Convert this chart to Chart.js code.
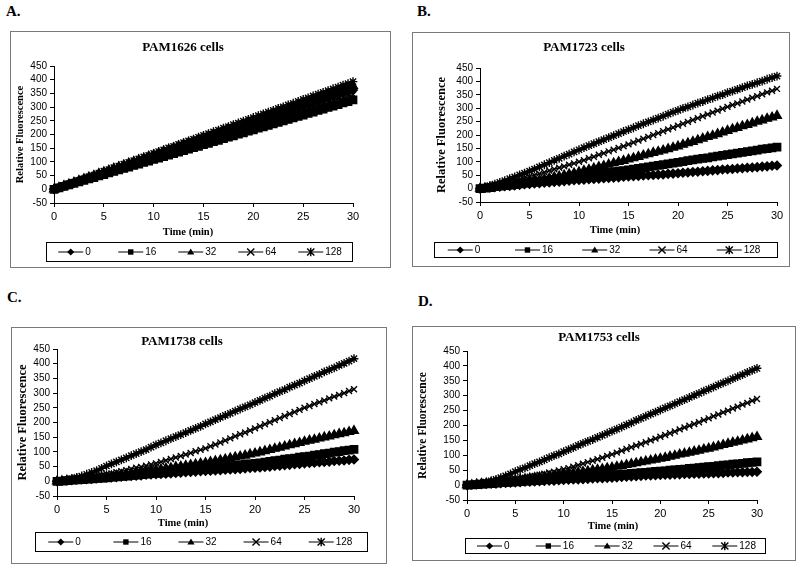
<!DOCTYPE html>
<html>
<head>
<meta charset="utf-8">
<script src="https://cdn.jsdelivr.net/npm/chart.js@4.4.0/dist/chart.umd.min.js"></script>
<style>
html, body { margin: 0; padding: 0; background: #fff; }
body { width: 800px; height: 572px; position: relative; overflow: hidden; }
.frame { position: absolute; border: 1px solid #7a7a7a; }
.frame canvas { display: block; }
.letter { position: absolute; font: bold 15px "Liberation Serif", serif; color: #000; }
</style>
</head>
<body>
<div class="letter" style="left:6px;top:3px">A.</div>
<div class="letter" style="left:417px;top:3px">B.</div>
<div class="letter" style="left:7px;top:289px">C.</div>
<div class="letter" style="left:418px;top:293px">D.</div>
<script>
// time points (min), one reading every 30 s
const times = [
  0,0.5,1,1.5,2,2.5,3,3.5,4,4.5,
  5,5.5,6,6.5,7,7.5,8,8.5,9,9.5,
  10,10.5,11,11.5,12,12.5,13,13.5,14,14.5,
  15,15.5,16,16.5,17,17.5,18,18.5,19,19.5,
  20,20.5,21,21.5,22,22.5,23,23.5,24,24.5,
  25,25.5,26,26.5,27,27.5,28,28.5,29,29.5,
  30];
const seriesLabels = ['0', '16', '32', '64', '128'];
const xTicks = [0, 5, 10, 15, 20, 25, 30];
const yTicks = [-50, 0, 50, 100, 150, 200, 250, 300, 350, 400, 450];

// A. PAM1626
const a0 = [0,6,12,18,24,30,36,42,48,54, 60,66,72,78,85,91,97,103,109,115, 121,127,133,139,145,151,157,163,169,175,
  181,187,193,199,205,211,217,223,229,235, 241,247,253,259,265,271,277,283,289,296, 302,308,314,320,326,332,338,344,350,356, 362];
const a16 = [0,5,11,16,22,27,33,38,43,49, 54,60,65,71,76,81,87,92,98,103, 109,114,119,125,130,136,141,147,152,157,
  163,168,174,179,185,190,195,201,206,212, 217,223,228,233,239,244,250,255,261,266, 271,277,282,288,293,299,304,309,315,320, 326];
const a32 = [0,6,13,19,25,32,38,44,50,57, 63,69,76,82,88,95,101,107,113,120, 126,132,139,145,151,158,164,170,176,183,
  189,195,202,208,214,221,227,233,239,246, 252,258,265,271,277,284,290,296,302,309, 315,321,328,334,340,347,353,359,365,372, 378];
const a64 = [0,6,12,17,23,29,35,40,46,52, 58,63,69,75,81,87,92,98,104,110, 115,121,127,133,138,144,150,156,161,167,
  173,179,185,190,196,202,208,213,219,225, 231,236,242,248,254,260,265,271,277,283, 288,294,300,306,311,317,323,329,334,340, 346];
const a128 = [0,7,13,20,26,33,39,46,52,59, 66,72,79,85,92,98,105,111,118,124, 131,138,144,151,157,164,170,177,183,190,
  197,203,210,216,223,229,236,242,249,255, 262,269,275,282,288,295,301,308,314,321, 328,334,341,347,354,360,367,373,380,386, 393];

// B. PAM1723
const b0 = [0,2,3,5,7,9,10,12,14,16, 17,19,20,22,23,25,26,28,29,31, 32,33,35,36,37,39,40,41,42,44,
  45,46,47,49,50,51,52,53,55,56, 57,59,60,62,63,65,66,68,69,71, 72,73,75,76,78,79,80,82,83,85, 86];
const b16 = [0,2,4,7,9,11,13,15,18,20, 22,24,27,29,31,34,36,38,40,43, 45,47,50,52,55,57,60,62,65,67,
  70,73,75,78,81,84,87,89,92,95, 98,101,104,107,110,113,115,118,121,124, 127,130,132,135,138,141,144,147,149,152, 155];
const b32 = [0,2,4,6,9,11,13,16,18,21, 24,27,31,35,39,43,46,50,54,58, 62,67,71,76,81,85,90,95,100,104,
  109,114,119,124,129,134,138,143,148,153, 158,164,170,175,181,187,193,198,204,210, 216,222,227,233,238,244,250,255,261,266, 272];
const b64 = [0,3,7,11,15,20,24,29,34,40, 45,50,56,61,67,72,78,83,89,94, 100,106,113,119,126,132,139,145,152,158,
  165,172,179,186,193,200,207,214,221,228, 235,242,249,256,263,270,277,284,291,298, 305,312,318,325,332,339,345,352,359,365, 372];
const b128 = [0,5,11,17,23,30,37,44,51,58, 65,73,81,89,97,105,113,121,129,137, 145,153,160,168,175,183,190,198,205,213,
  220,227,235,242,249,256,263,270,278,285, 292,299,305,312,319,325,332,338,345,351, 358,364,370,377,383,389,395,401,408,414, 420];

// C. PAM1738
const c0 = [0,1,2,4,5,6,7,8,10,11, 12,13,14,16,17,18,19,20,22,23, 24,25,26,27,28,29,31,32,33,34,
  35,36,37,38,39,40,41,42,44,45, 46,47,49,50,52,53,55,56,58,59, 61,62,63,65,66,67,69,70,71,73, 74];
const c16 = [0,1,2,4,5,6,7,8,10,11, 12,14,15,17,18,20,21,23,24,26, 27,29,31,32,34,36,37,39,41,42,
  44,46,47,49,51,53,54,56,58,59, 61,63,65,68,70,72,75,77,79,82, 84,86,89,91,94,96,99,101,104,106, 109];
const c32 = [0,1,3,4,6,7,9,10,12,14, 16,18,20,23,25,27,30,32,34,37, 39,41,44,46,49,51,53,56,58,61,
  63,66,69,72,75,79,82,85,88,92, 95,99,103,107,111,115,119,123,127,131, 135,139,142,146,150,153,157,161,164,168, 172];
const c64 = [0,1,3,5,7,9,11,14,17,20, 24,27,31,34,38,42,46,49,53,57, 61,66,71,76,81,86,91,96,102,107,
  112,119,125,132,139,146,153,160,166,173, 180,187,194,201,208,215,222,229,236,243, 250,256,263,269,275,282,288,294,300,307, 313];
const c128 = [0,2,5,9,13,18,24,30,36,44, 52,59,66,73,80,87,94,101,108,116, 124,131,138,145,152,159,166,173,180,187,
  195,202,210,217,224,231,239,246,253,260, 268,275,283,290,298,305,312,320,327,334, 342,349,357,364,372,379,386,394,401,409, 417];

// D. PAM1753
const d0 = [0,1,2,3,4,5,5,6,7,8, 9,10,11,11,12,13,14,15,15,16, 17,18,19,19,20,21,22,23,23,24,
  25,26,27,28,29,30,31,32,32,33, 34,35,35,36,36,37,37,38,38,39, 39,40,40,41,42,42,43,43,44,44, 45];
const d16 = [0,1,2,3,4,5,7,8,9,10, 11,12,13,14,15,16,18,19,20,21, 22,23,24,26,27,28,29,30,32,33,
  34,35,36,38,39,40,42,43,44,46, 47,48,50,51,53,54,56,57,59,60, 62,63,65,67,68,70,71,73,75,76, 78];
const d32 = [0,1,3,5,6,8,10,12,13,15, 17,19,21,23,25,27,28,30,32,34, 36,38,40,43,45,47,50,52,54,57,
  59,62,65,68,71,74,77,80,83,86, 89,92,96,99,103,106,109,113,116,120, 123,127,131,135,139,143,146,150,154,158, 162];
const d64 = [0,1,2,4,6,8,10,12,14,16, 19,22,25,28,31,35,38,42,45,49, 53,57,62,67,72,77,82,87,92,98,
  103,109,115,121,127,133,138,144,150,156, 162,168,174,180,187,193,199,205,211,218, 224,231,237,244,250,257,263,270,276,283, 289];
const d128 = [0,2,4,7,10,14,19,25,31,38, 45,52,58,65,72,78,85,92,99,105, 112,119,126,133,140,147,153,160,167,174,
  181,188,195,202,209,217,224,231,238,245, 252,259,266,273,280,287,294,301,308,315, 322,329,336,343,350,357,364,371,378,385, 392];

const chartTitles = ['PAM1626 cells', 'PAM1723 cells', 'PAM1738 cells', 'PAM1753 cells'];
const yTitle = 'Relative Fluorescence';
const xTitle = 'Time (min)';

const markerStyles = ['rectRot', 'rect', 'triangle', 'crossRot', 'star'];
const markerRadius = [4.3, 5.2, 5, 4.2, 4.4];

// page layout of each panel (frame, plot area, text spots)
const panels = [
  { series: [a0, a16, a32, a64, a128], f: {L: 11, T: 32, R: 390, B: 267}, plot: {l: 54, r: 353, t: 66, b: 203},
    yT: {x: 20, size: 10.5}, tt: {x: 183, y: 48}, xt: {x: 188, y: 232, size: 10.5}, leg: {l: 46, r: 352, t: 242, b: 261} },
  { series: [b0, b16, b32, b64, b128], f: {L: 413, T: 33, R: 789, B: 266}, plot: {l: 480, r: 777, t: 68, b: 202},
    yT: {x: 442, size: 12.5}, tt: {x: 584, y: 48}, xt: {x: 615, y: 230, size: 10.5}, leg: {l: 434, r: 777, t: 242, b: 257} },
  { series: [c0, c16, c32, c64, c128], f: {L: 12, T: 328, R: 386, B: 563}, plot: {l: 57, r: 354, t: 349, b: 496},
    yT: {x: 23, size: 12.5}, tt: {x: 182, y: 342}, xt: {x: 183, y: 523, size: 10.5}, leg: {l: 35, r: 367, t: 532, b: 551} },
  { series: [d0, d16, d32, d64, d128], f: {L: 413, T: 327, R: 795, B: 560}, plot: {l: 467, r: 757, t: 351, b: 500},
    yT: {x: 423, size: 11.5}, tt: {x: 599, y: 338}, xt: {x: 613, y: 526, size: 10.5}, leg: {l: 465, r: 765, t: 538, b: 553} }
];

function drawMark(ctx, style, x, y, r) {
  ctx.beginPath();
  if (style === 'rectRot') {
    ctx.moveTo(x, y - r); ctx.lineTo(x + r, y); ctx.lineTo(x, y + r); ctx.lineTo(x - r, y);
    ctx.closePath(); ctx.fill();
  } else if (style === 'rect') {
    ctx.fillRect(x - r * 0.75, y - r * 0.75, r * 1.5, r * 1.5);
  } else if (style === 'triangle') {
    ctx.moveTo(x, y - r); ctx.lineTo(x + r, y + r * 0.7); ctx.lineTo(x - r, y + r * 0.7);
    ctx.closePath(); ctx.fill();
  } else {
    ctx.moveTo(x - r, y - r); ctx.lineTo(x + r, y + r);
    ctx.moveTo(x + r, y - r); ctx.lineTo(x - r, y + r);
    if (style === 'star') { ctx.moveTo(x, y - r * 1.2); ctx.lineTo(x, y + r * 1.2); }
    ctx.lineWidth = 1.4;
    ctx.stroke();
    ctx.lineWidth = 1;
  }
}

const panelDecor = {
  id: 'panelDecor',
  afterDraw(chart, args, o) {
    const ctx = chart.ctx;
    ctx.save();
    ctx.fillStyle = '#000';
    ctx.strokeStyle = '#000';
    ctx.lineWidth = 1;
    ctx.textAlign = 'center';
    ctx.textBaseline = 'middle';
    ctx.font = 'bold 13px "Liberation Serif"';
    ctx.fillText(o.title, o.titleX, o.titleY);
    ctx.font = 'bold ' + o.xTitleSize + 'px "Liberation Serif"';
    ctx.fillText(o.xTitle, o.xTitleX, o.xTitleY);

    // legend box
    const lg = o.legend;
    ctx.strokeRect(lg.x + 0.5, lg.y + 0.5, lg.w, lg.h);
    const step = lg.w / 5.1, off = lg.w * 0.04, cy = lg.y + lg.h / 2 + 0.5;
    ctx.font = '10px "Liberation Sans"';
    ctx.textAlign = 'left';
    chart.data.datasets.forEach((ds, i) => {
      const x0 = lg.x + off + i * step;
      ctx.beginPath(); ctx.moveTo(x0, cy); ctx.lineTo(x0 + 25, cy); ctx.stroke();
      drawMark(ctx, ds.pointStyle, x0 + 12.5, cy, 3.6);
      ctx.fillText(ds.label, x0 + 27, cy);
    });
    ctx.restore();
  }
};

panels.forEach((p, k) => {
  const W = p.f.R - p.f.L, H = p.f.B - p.f.T;
  const frame = document.createElement('div');
  frame.className = 'frame';
  frame.style.left = (p.f.L - 1) + 'px';
  frame.style.top = (p.f.T - 1) + 'px';
  frame.style.width = W + 'px';
  frame.style.height = H + 'px';
  const cv = document.createElement('canvas');
  cv.width = W; cv.height = H;
  frame.appendChild(cv);
  document.body.appendChild(frame);

  const lh = p.yT.size * 1.2;
  const pl = p.yT.x - p.f.L - lh / 2;
  const yWidth = p.plot.l - p.f.L - pl;
  const xHeight = 20;

  const axisGrid = { display: true, drawOnChartArea: false, drawTicks: true, tickLength: 4, color: '#000' };

  new Chart(cv.getContext('2d'), {
    type: 'line',
    data: {
      datasets: p.series.map((vals, i) => ({
        label: seriesLabels[i],
        data: times.map((t, j) => ({x: t, y: vals[j]})),
        borderColor: '#000',
        backgroundColor: '#000',
        borderWidth: 1.3,
        pointStyle: markerStyles[i],
        pointRadius: markerRadius[i],
        pointBorderWidth: 1.4,
        pointBorderColor: '#000',
        pointBackgroundColor: '#000',
        tension: 0,
        fill: false,
        clip: false
      }))
    },
    options: {
      responsive: false,
      animation: false,
      events: [],
      layout: {
        padding: { left: pl, top: p.plot.t - p.f.T, right: p.f.R - p.plot.r, bottom: (p.f.B - p.plot.b) - xHeight }
      },
      plugins: {
        legend: { display: false },
        title: { display: false },
        tooltip: { enabled: false },
        panelDecor: {
          title: chartTitles[k], titleX: p.tt.x - p.f.L, titleY: p.tt.y - p.f.T,
          xTitle: xTitle, xTitleX: p.xt.x - p.f.L, xTitleY: p.xt.y - p.f.T, xTitleSize: p.xt.size,
          legend: { x: p.leg.l - p.f.L, y: p.leg.t - p.f.T, w: p.leg.r - p.leg.l, h: p.leg.b - p.leg.t }
        }
      },
      scales: {
        x: {
          type: 'linear', min: 0, max: 30,
          afterBuildTicks: s => { s.ticks = xTicks.map(v => ({value: v})); },
          afterFit: s => { s.height = xHeight; },
          ticks: { color: '#000', font: { family: 'Liberation Sans', size: 11 }, padding: 3, maxRotation: 0, autoSkip: false },
          grid: axisGrid,
          border: { display: true, color: '#000', width: 1 }
        },
        y: {
          type: 'linear', min: -50, max: 450,
          afterBuildTicks: s => { s.ticks = yTicks.map(v => ({value: v})); },
          afterFit: s => { s.width = yWidth; },
          ticks: { color: '#000', font: { family: 'Liberation Sans', size: 10 }, padding: 3, autoSkip: false },
          grid: axisGrid,
          border: { display: true, color: '#000', width: 1 },
          title: { display: true, text: yTitle, color: '#000', padding: 0,
                   font: { family: 'Liberation Serif', weight: 'bold', size: p.yT.size } }
        }
      }
    },
    plugins: [panelDecor]
  });
});
</script>
</body>
</html>
